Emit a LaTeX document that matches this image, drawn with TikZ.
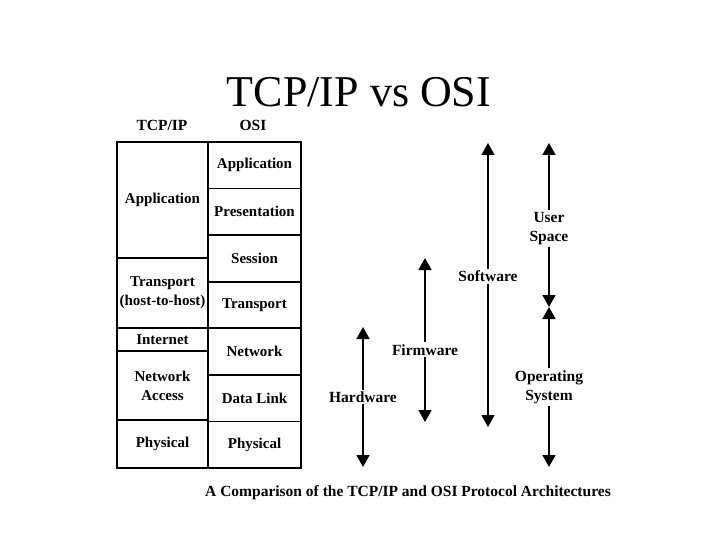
\documentclass[tikz,border=0pt]{standalone}
\usepackage{fontspec}
\setmainfont{Liberation Serif}
\usetikzlibrary{arrows.meta,positioning}
\tikzset{
  cell/.style={rectangle,draw,line width=1.6pt,inner sep=0pt,outer sep=0pt,
    align=center,font=\fontsize{15}{19}\selectfont\bfseries},
  tcpcol/.style={cell,minimum width=91pt},
  osicol/.style={cell,minimum width=93pt,minimum height=46.57pt},
  head/.style={anchor=base,inner sep=0pt,font=\fontsize{15.5}{19}\selectfont\bfseries},
  lbl/.style={fill=white,inner sep=2pt,align=center,
    font=\fontsize{15.5}{19}\selectfont\bfseries},
  span/.style={{Triangle[width=13pt,length=12pt]}-{Triangle[width=13pt,length=12pt]},
    line width=1.6pt}}
\begin{document}
\begin{tikzpicture}[x=1pt,y=-1pt]
  \useasboundingbox[fill=white] (0,0) rectangle (720,540);
  \node[anchor=base,inner sep=0pt,font=\fontsize{44}{50}\selectfont] (title) at (359,107) {TCP/IP vs OSI};
  \node[head] (hdtcp) at (162,131) {TCP/IP};
  \node[head] (hdosi) at (253,131) {OSI};
  % OSI stack
  \node[osicol,anchor=north west] (oapp) at (208,142) {Application};
  \node[osicol,below=0pt of oapp] (opres) {Presentation};
  \node[osicol,below=0pt of opres] (osess) {Session};
  \node[osicol,below=0pt of osess] (otrans) {Transport};
  \node[osicol,below=0pt of otrans] (onet) {Network};
  \node[osicol,below=0pt of onet] (olink) {Data Link};
  \node[osicol,below=0pt of olink] (ophys) {Physical};
  % TCP/IP stack
  \node[tcpcol,minimum height=116pt,anchor=north east] (tapp) at (oapp.north west) {Application};
  \node[tcpcol,minimum height=70pt,below=0pt of tapp] (ttrans) {Transport\\(host-to-host)};
  \node[tcpcol,minimum height=23pt,below=0pt of ttrans] (tinet) {Internet};
  \node[tcpcol,minimum height=69pt,below=0pt of tinet] (tnet) {Network\\Access};
  \node[tcpcol,minimum height=48pt,below=0pt of tnet] (tphys) {Physical};
  % spans
  \coordinate (hwtop) at (363,327);
  \coordinate (hwbot) at (363,467);
  \coordinate (fwtop) at (425,258);
  \coordinate (fwbot) at (425,422);
  \coordinate (swtop) at (488,143);
  \coordinate (swbot) at (488,427);
  \coordinate (ustop) at (549,143);
  \coordinate (usmid) at (549,307);
  \coordinate (osbot) at (549,467);
  \draw[span] (hwtop) -- (hwbot) node[lbl,midway] (hw) {Hardware};
  \draw[span] (fwtop) -- (fwbot) node[lbl,pos=.56] (fw) {Firmware};
  \draw[span] (swtop) -- (swbot) node[lbl,pos=.47] (sw) {Software};
  \draw[span] (ustop) -- (usmid) node[lbl,pos=.52] (us) {User\\Space};
  \draw[span] (usmid) -- (osbot) node[lbl,midway] (os) {Operating\\System};
  \node[anchor=base,font=\fontsize{15.5}{19}\selectfont\bfseries] (caption) at (408,496)
    {A Comparison of the TCP/IP and OSI Protocol Architectures};
\end{tikzpicture}
\end{document}
